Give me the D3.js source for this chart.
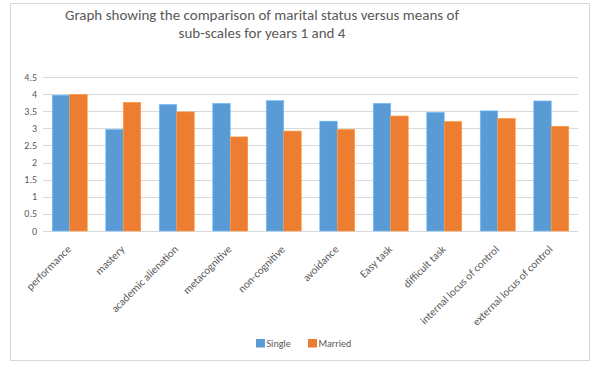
<!DOCTYPE html>
<html>
<head>
<meta charset="utf-8">
<script src="https://cdn.jsdelivr.net/npm/d3@7"></script>
<style>
  body { margin: 0; background: #fff; }
  svg { display: block; }
  text { font-family: Calibri, Carlito, "Open Sans", sans-serif; fill: #595959; }
</style>
</head>
<body>
<svg id="chart" width="596" height="371"></svg>
<script>
const categories = ["performance", "mastery", "academic alienation", "metacognitive", "non-cognitive",
  "avoidance", "Easy task", "difficult task", "internal locus of control", "external locus of control"];
const seriesNames = ["Single", "Married"];
const single = [3.97, 2.97, 3.70, 3.73, 3.81, 3.21, 3.73, 3.47, 3.51, 3.80];
const married = [3.99, 3.76, 3.48, 2.75, 2.92, 2.97, 3.36, 3.20, 3.29, 3.06];
const yTicks = [0, 0.5, 1, 1.5, 2, 2.5, 3, 3.5, 4, 4.5];
const titleLines = ["Graph showing the comparison of marital status versus means of",
  "sub-scales for years 1 and 4"];
const colors = ["#5B9BD5", "#ED7D31"];

const svg = d3.select("#chart");

// outer chart border
svg.append("rect")
  .attr("x", 10.5).attr("y", 3.5)
  .attr("width", 579).attr("height", 357)
  .attr("fill", "#fff").attr("stroke", "#d9d9d9");

const plotLeft = 43, plotRight = 578, plotTop = 77, plotBottom = 231;

const x = d3.scaleBand().domain(categories).range([plotLeft, plotRight]).paddingInner(0.346).paddingOuter(0.173);
const xs = d3.scaleBand().domain(seriesNames).range([0, x.bandwidth()]);
const y = d3.scaleLinear().domain([0, 4.5]).range([plotBottom, plotTop]);

// gridlines
svg.append("g")
  .selectAll("line")
  .data(yTicks)
  .join("line")
  .attr("x1", plotLeft).attr("x2", plotRight)
  .attr("y1", d => Math.round(y(d)) + 0.5).attr("y2", d => Math.round(y(d)) + 0.5)
  .attr("stroke", "#d9d9d9").attr("stroke-width", 1);

// y tick labels
svg.append("g")
  .selectAll("text")
  .data(yTicks)
  .join("text")
  .attr("x", 37)
  .attr("y", d => y(d) + 3.5)
  .attr("text-anchor", "end")
  .attr("font-size", 10)
  .text(d => d);

// bars
const rows = categories.map((c, i) => ({cat: c, values: [single[i], married[i]]}));
const groups = svg.append("g")
  .selectAll("g")
  .data(rows)
  .join("g")
  .attr("transform", d => `translate(${x(d.cat)},0)`);

groups.selectAll("rect")
  .data(d => d.values.map((v, k) => ({key: seriesNames[k], value: v, k: k})))
  .join("rect")
  .attr("x", d => xs(d.key))
  .attr("width", xs.bandwidth())
  .attr("y", d => y(d.value))
  .attr("height", d => y(0) - y(d.value))
  .attr("fill", d => colors[d.k])
  .attr("stroke", d => d3.color(colors[d.k]).brighter(0.6))
  .attr("stroke-width", 0.6);

// x labels, rotated
svg.append("g")
  .selectAll("text")
  .data(categories)
  .join("text")
  .attr("transform", d => `translate(${x(d) + x.bandwidth() / 2 + 2},${plotBottom + 19}) rotate(-45)`)
  .attr("text-anchor", "end")
  .attr("font-size", 11)
  .text(d => d);

// title
svg.append("g")
  .selectAll("text")
  .data(titleLines)
  .join("text")
  .attr("x", 262)
  .attr("y", (d, i) => 20 + i * 18)
  .attr("text-anchor", "middle")
  .attr("font-size", 15)
  .attr("fill", "#666")
  .text(d => d);

// legend
const legend = svg.append("g")
  .selectAll("g")
  .data(seriesNames)
  .join("g")
  .attr("transform", (d, i) => `translate(${256 + i * 52},339)`);
legend.append("rect")
  .attr("width", 9).attr("height", 8.5)
  .attr("fill", (d, i) => colors[i]);
legend.append("text")
  .attr("x", 10.5).attr("y", 8)
  .attr("font-size", 10)
  .text(d => d);
</script>
</body>
</html>
